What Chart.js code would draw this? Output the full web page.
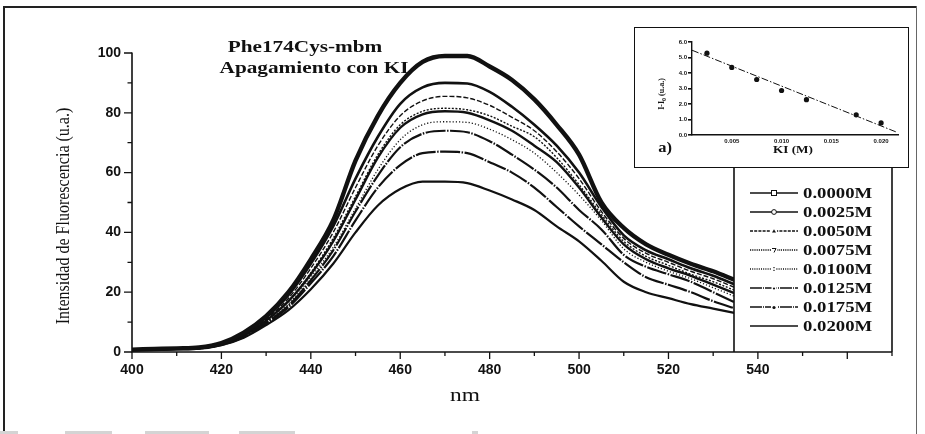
<!DOCTYPE html>
<html><head><meta charset="utf-8">
<script src="https://cdn.jsdelivr.net/npm/chart.js@4.4.0/dist/chart.umd.min.js"></script>
<style>
html,body{margin:0;padding:0;background:#fff;}
#wrap{position:relative;width:925px;height:434px;overflow:hidden;background:#fff;}
#main{position:absolute;left:0;top:0;}
.fr{position:absolute;background:#222;}
.st{position:absolute;background:#d4d4d4;top:431px;height:3px;}
#insetBox{position:absolute;left:634px;top:27px;width:275px;height:141px;border:1.5px solid #111;background:#fff;box-sizing:border-box;}
#inset{position:absolute;left:634px;top:27px;}
</style></head>
<body>
<div id="wrap">
<canvas id="main" width="925" height="434"></canvas>
<div class="fr" style="left:3px;top:6px;width:914px;height:1.6px;"></div>
<div class="fr" style="left:3px;top:6px;width:1.6px;height:428px;"></div>
<div class="fr" style="left:916px;top:6px;width:1.2px;height:428px;background:#666;"></div>
<div class="st" style="left:0px;width:18px;"></div>
<div class="st" style="left:65px;width:47px;"></div>
<div class="st" style="left:145px;width:64px;"></div>
<div class="st" style="left:239px;width:56px;"></div>
<div class="st" style="left:472px;width:6px;"></div>
<div id="insetBox"></div>
<canvas id="inset" width="275" height="141"></canvas>
</div>
<script>
// ---------- data (main chart) ----------
const wavelengths = [400,405,410,415,420,425,430,435,440,445,450,455,460,465,470,475,480,485,490,495,500,505,510,515,520,525,530,535];
const concLabels = ['0.0000M','0.0025M','0.0050M','0.0075M','0.0100M','0.0125M','0.0175M','0.0200M'];
const int0000 = [0.8,1.0,1.2,1.5,3.0,6.5,12,20,31,44,64,79,90,97,99,99,95.5,91,84.5,76,66,50,41.5,36,32.5,29.5,27,24];
const int0025 = [0.8,1.0,1.2,1.5,2.8,6.0,11.5,19,29.5,42,58,72,83,88.5,90,89.8,87,82,76,69,60,48.5,39,34,31,28,25.5,22.5];
const int0050 = [0.7,0.9,1.1,1.4,2.7,5.8,11,18,28,40,55,69,79,84,85.5,85,82.5,78.5,74,67,58,47,38,33,30,27,24.5,21.5];
const int0075 = [0.7,0.9,1.1,1.4,2.6,5.6,10.5,17,26.5,38,52,66,76,80.5,81.5,81,79,75.5,72,65,56,46,37,32,29,26,23.5,20.5];
const intUnlabeled = [0.7,0.9,1.1,1.4,2.6,5.5,10.5,17,26,37,51,65,75,79.5,80.5,80,77.5,74,69,63.5,55,45,36,31,28,25.5,22.5,19.5];
const int0100 = [0.6,0.8,1.0,1.3,2.5,5.3,10,16,25,35,48,61,71,76,77,76.8,74.5,71,66.5,60,52.5,44,34.5,30,27,24.5,21.5,18.5];
const int0125 = [0.6,0.8,1.0,1.3,2.5,5.2,9.8,15.5,24,34,47,59,68.5,73,74,73.5,70.5,66,61,55,47.5,41,32.5,28.5,26,23.5,20,16.5];
const int0175 = [0.6,0.8,1.0,1.2,2.4,5.0,9.5,15,23,32,44,55,62.5,66.5,67,66.5,63.5,60,55,48.5,42,36,30,25,22.5,20,17,14.5];
const int0200 = [0.5,0.7,0.9,1.1,2.3,4.8,9,14,21,29.5,40,49,54.5,57,57,56.5,54,51,47.5,42,37,30.5,23.5,20,18,16,14.5,13];
const xTickLabels = [400,420,440,460,480,500,520,540];
const yTickLabels = [0,20,40,60,80,100];
const titleLines = ['Phe174Cys-mbm','Apagamiento con KI'];
const xTitle = 'nm';
const yTitle = 'Intensidad de Fluorescencia (u.a.)';

// ---------- data (inset) ----------
const kiConc = [0.0025,0.005,0.0075,0.01,0.0125,0.0175,0.02];
const deltaI = [5.28,4.36,3.58,2.87,2.28,1.30,0.78];
const fitKI = [0.001,0.0215];
const fitDelta = [5.47,0.2];
const insetXTicks = [0.005,0.010,0.015,0.020];
const insetYTicks = [0,1,2,3,4,5,6];

// ---------- styles ----------
const seriesValues = [int0000,int0025,int0050,int0075,int0100,int0125,int0175,int0200];
const seriesStyles = [
  {w:4.4, dash:[], marker:'square'},
  {w:2.6, dash:[], marker:'circle'},
  {w:1.4, dash:[5,2], marker:'triangle'},
  {w:1.4, dash:[2,1.6], marker:'dtriangle'},
  {w:1.3, dash:[1.2,2], marker:'colon'},
  {w:2.2, dash:[20,1.5,1.5,1.5], marker:'dot'},
  {w:2.2, dash:[20,1.5,1.5,1.5], marker:'bigdot'},
  {w:2.2, dash:[], marker:'none'}
];
const INK = '#111';

function toPts(arr){ return wavelengths.map((x,i)=>({x:x,y:arr[i]})); }

const datasets = seriesValues.map((vals,i)=>({
  label: concLabels[i],
  data: toPts(vals),
  borderColor: INK, backgroundColor: INK,
  borderWidth: seriesStyles[i].w,
  borderDash: seriesStyles[i].dash,
  pointRadius: 0,
  cubicInterpolationMode: 'monotone',
  fill: false,
  markerKind: seriesStyles[i].marker
}));
// unlabeled trace visible in the figure (no legend entry)
datasets.splice(4,0,{
  label:'', data: toPts(intUnlabeled), borderColor: INK, borderWidth: 2.4, borderDash: [],
  pointRadius:0, cubicInterpolationMode:'monotone', fill:false, noLegend:true
});

function drawText(ctx, text, x, y, font, sx, align, rot){
  ctx.save();
  ctx.translate(x,y);
  if (rot) ctx.rotate(rot);
  ctx.scale(sx,1);
  ctx.font = font; ctx.fillStyle = INK;
  ctx.textAlign = align || 'center'; ctx.textBaseline = 'middle';
  ctx.fillText(text,0,0);
  ctx.restore();
}

function drawMarker(ctx, kind, x, y){
  ctx.save();
  ctx.lineWidth = 1; ctx.strokeStyle = INK; ctx.fillStyle = INK; ctx.setLineDash([]);
  if (kind==='square'){ ctx.fillStyle='#fff'; ctx.fillRect(x-2.5,y-2.5,5,5); ctx.strokeRect(x-2.5,y-2.5,5,5); }
  else if (kind==='circle'){ ctx.beginPath(); ctx.fillStyle='#fff'; ctx.arc(x,y,2.4,0,Math.PI*2); ctx.fill(); ctx.stroke(); }
  else if (kind==='triangle'){ ctx.fillStyle='#fff'; ctx.fillRect(x-3,y-3,6,5); ctx.beginPath(); ctx.moveTo(x-2,y+1.5); ctx.lineTo(x+2,y+1.5); ctx.lineTo(x,y-1.8); ctx.closePath(); ctx.fillStyle=INK; ctx.fill(); }
  else if (kind==='dtriangle'){ ctx.fillStyle='#fff'; ctx.fillRect(x-3,y-3,6,7); ctx.beginPath(); ctx.moveTo(x-2,y-1.5); ctx.lineTo(x+2,y-1.5); ctx.lineTo(x,y+2.5); ctx.stroke(); }
  else if (kind==='colon'){ ctx.fillStyle='#fff'; ctx.fillRect(x-2,y-3,4,6); ctx.fillStyle=INK; ctx.fillRect(x-0.6,y-2,1.2,1.2); ctx.fillRect(x-0.6,y+0.8,1.2,1.2); }
  else if (kind==='dot'){ ctx.fillStyle='#fff'; ctx.fillRect(x-2.5,y-2,5,4); ctx.fillStyle=INK; ctx.beginPath(); ctx.arc(x,y+0.5,1.1,0,Math.PI*2); ctx.fill(); }
  else if (kind==='bigdot'){ ctx.fillStyle='#fff'; ctx.fillRect(x-3,y-2.5,6,5); ctx.fillStyle=INK; ctx.beginPath(); ctx.arc(x,y+0.5,1.6,0,Math.PI*2); ctx.fill(); }
  ctx.restore();
}

const decor = {
  id:'decor',
  beforeDatasetsDraw(chart){
    const ctx = chart.ctx;
    drawText(ctx, titleLines[0], 305, 48, 'bold 17px "Liberation Serif"', 1.25, 'center');
    drawText(ctx, titleLines[1], 314, 69, 'bold 17px "Liberation Serif"', 1.25, 'center');
  },
  afterDraw(chart){
    const ctx = chart.ctx;
    const ax = chart.scales.x, ay = chart.scales.y;
    const xMin = ax.min, xMax = ax.max, yMin = ay.min, yMax = ay.max;
    const x0 = ax.getPixelForValue(xMin), x1 = ax.getPixelForValue(xMax);
    const y0 = ay.getPixelForValue(yMin), y1 = ay.getPixelForValue(yMax);

    // legend box
    ctx.save();
    ctx.fillStyle = '#fff';
    ctx.fillRect(734, 167, 892-734, y0-167);
    ctx.strokeStyle = INK; ctx.lineWidth = 1.6;
    ctx.beginPath(); ctx.moveTo(734,167); ctx.lineTo(734,y0); ctx.moveTo(892,167); ctx.lineTo(892,y0); ctx.stroke();
    ctx.restore();

    // axes
    ctx.save();
    ctx.strokeStyle = INK; ctx.lineWidth = 1.6;
    ctx.beginPath(); ctx.moveTo(x0,y1-0.5); ctx.lineTo(x0,y0); ctx.lineTo(x1,y0); ctx.stroke();
    ctx.lineWidth = 1.3;
    ctx.beginPath();
    for (let v=yMin; v<=yMax+0.01; v+=10){
      const p = ay.getPixelForValue(v); const len = (Math.round(v)%20===0)?8:4.5;
      ctx.moveTo(x0-len,p); ctx.lineTo(x0,p);
    }
    for (let v=xMin; v<=xMax+0.01; v+=10){
      const p = ax.getPixelForValue(v); const len = (Math.round(v)%20===0)?7:4;
      ctx.moveTo(p,y0); ctx.lineTo(p,y0+len);
    }
    ctx.stroke();
    ctx.restore();

    // axis titles
    drawText(ctx, yTitle, 64, 216, '18px "Liberation Serif"', 0.89, 'center', -Math.PI/2);
    drawText(ctx, xTitle, 465, 396, '18px "Liberation Serif"', 1.3, 'center');

    // legend entries
    const items = chart.data.datasets.filter(d=>!d.noLegend);
    items.forEach((d,i)=>{
      const y = 193 + i*19;
      ctx.save();
      ctx.strokeStyle = INK; ctx.lineWidth = Math.min(d.borderWidth,1.6);
      ctx.setLineDash(d.borderDash && d.borderDash.length ? d.borderDash.map(v=>Math.max(v*0.6,1)) : []);
      ctx.beginPath(); ctx.moveTo(750,y); ctx.lineTo(798,y); ctx.stroke();
      ctx.restore();
      drawMarker(ctx, d.markerKind, 774, y);
      drawText(ctx, d.label, 803, y+1, 'bold 15px "Liberation Serif"', 1.25, 'left');
    });
  }
};

new Chart(document.getElementById('main'), {
  type:'line',
  data:{ datasets: datasets },
  options:{
    responsive:false, animation:false, devicePixelRatio:1,
    layout:{ padding:{left:0, top:53, right:33, bottom:0} },
    plugins:{ legend:{display:false}, tooltip:{enabled:false}, title:{display:false} },
    scales:{
      x:{
        type:'linear', min:400, max:570,
        afterFit(s){ s.height = 82; },
        afterBuildTicks(s){ s.ticks = xTickLabels.map(v=>({value:v})); },
        grid:{display:false, drawTicks:false}, border:{display:false},
        ticks:{ padding:10, color:INK, font:{family:'"Liberation Sans", Arial, sans-serif', size:14, weight:'bold'}, maxRotation:0 }
      },
      y:{
        type:'linear', min:0, max:100,
        afterFit(s){ s.width = 132; },
        afterBuildTicks(s){ s.ticks = yTickLabels.map(v=>({value:v})); },
        grid:{display:false, drawTicks:false}, border:{display:false},
        ticks:{ padding:11, color:INK, font:{family:'"Liberation Sans", Arial, sans-serif', size:14, weight:'bold'} }
      }
    }
  },
  plugins:[decor]
});

// ---------- inset ----------
const insetDecor = {
  id:'insetDecor',
  afterDraw(chart){
    const ctx = chart.ctx;
    ctx.save();
    ctx.translate(28,67); ctx.rotate(-Math.PI/2);
    ctx.font = 'bold 8px "Liberation Serif"'; ctx.fillStyle = INK; ctx.textBaseline='middle'; ctx.textAlign='left';
    const a = 'I-I', b = '0', c = ' (u.a.)';
    const wa = ctx.measureText(a).width, wc = ctx.measureText(c).width;
    ctx.font = 'bold 6px "Liberation Serif"'; const wb = ctx.measureText(b).width;
    let sx = -(wa+wb+wc)/2;
    ctx.font = 'bold 8px "Liberation Serif"'; ctx.fillText(a, sx, 0);
    ctx.font = 'bold 6px "Liberation Serif"'; ctx.fillText(b, sx+wa, 2.5);
    ctx.font = 'bold 8px "Liberation Serif"'; ctx.fillText(c, sx+wa+wb, 0);
    ctx.restore();
    drawText(ctx, 'KI (M)', 159, 123, 'bold 11px "Liberation Serif"', 1.2, 'center');
    drawText(ctx, 'a)', 31, 121, 'bold 15px "Liberation Serif"', 1.1, 'center');
  }
};

new Chart(document.getElementById('inset'), {
  type:'scatter',
  data:{ datasets:[
    { label:'I-I0', data: kiConc.map((x,i)=>({x:x,y:deltaI[i]})), showLine:false,
      pointRadius:2.6, pointBackgroundColor:INK, pointBorderColor:INK, pointBorderWidth:0 },
    { label:'ajuste', data: fitKI.map((x,i)=>({x:x,y:fitDelta[i]})), showLine:true,
      pointRadius:0, borderColor:INK, borderWidth:1, borderDash:[7,2,1.5,2] }
  ]},
  options:{
    responsive:false, animation:false, devicePixelRatio:1,
    layout:{ padding:{left:0, top:15, right:11, bottom:0} },
    plugins:{ legend:{display:false}, tooltip:{enabled:false} },
    scales:{
      x:{
        type:'linear', min:0.001, max:0.0217,
        afterFit(s){ s.height = 33; },
        afterBuildTicks(s){ s.ticks = insetXTicks.map(v=>({value:v})); },
        grid:{display:false, drawTicks:false},
        border:{display:true, color:INK, width:1.4},
        ticks:{ padding:3, color:INK, font:{family:'"Liberation Sans"', size:6, weight:'bold'}, maxRotation:0,
                callback:(v)=>v.toFixed(3) }
      },
      y:{
        type:'linear', min:0, max:6,
        afterFit(s){ s.width = 58; },
        afterBuildTicks(s){ s.ticks = insetYTicks.map(v=>({value:v})); },
        grid:{display:true, drawOnChartArea:false, drawTicks:true, tickLength:4, color:INK, lineWidth:1.6},
        border:{display:true, color:INK, width:1.4},
        ticks:{ padding:1, color:INK, font:{family:'"Liberation Sans"', size:6, weight:'bold'},
                callback:(v)=>v.toFixed(1) }
      }
    }
  },
  plugins:[insetDecor]
});
</script>
</body></html>
